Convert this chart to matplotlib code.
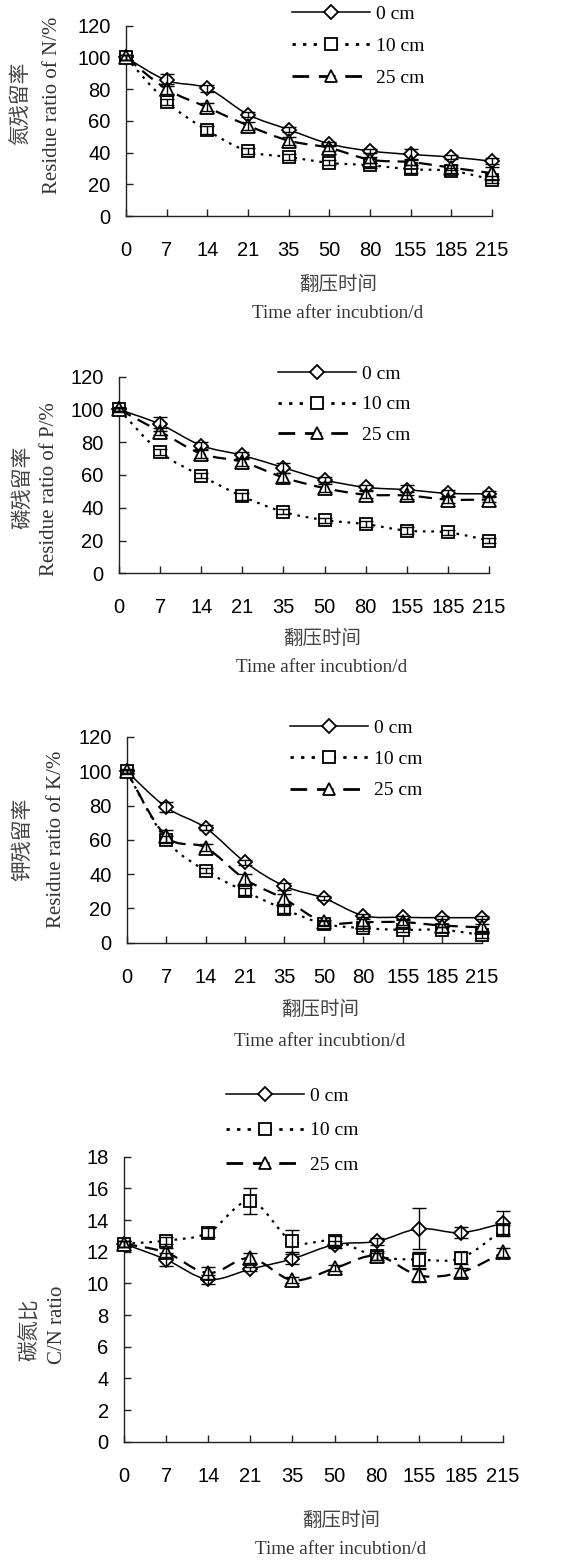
import matplotlib
matplotlib.use('Agg')
import matplotlib.pyplot as plt
from matplotlib.path import Path
from matplotlib.patches import PathPatch
from matplotlib.lines import Line2D

# categories (days after incubation)
days = ['0', '7', '14', '21', '35', '50', '80', '155', '185', '215']
depths = ['0 cm', '10 cm', '25 cm']

# N residue ratio (%)
n_0 = [100, 85.5, 80.5, 64, 54.5, 45.5, 41, 38.8, 37.2, 34.5]
n_10 = [100, 72, 54, 40.8, 37.2, 33.5, 32, 29.5, 28.5, 23]
n_25 = [100, 80, 68.5, 57, 47.5, 43, 35.5, 34, 30.5, 27]
n_0_err = [1.5, 3.8, 2.2, 1.8, 1.5, 1.2, 1.2, 3.5, 1.2, 1.8]
n_10_err = [1.5, 2.0, 2.5, 2.0, 2.0, 1.5, 1.5, 2.5, 1.5, 2.0]
n_25_err = [1.5, 3.0, 2.5, 2.5, 2.5, 2.0, 2.0, 2.0, 1.5, 4.0]

# P residue ratio (%)
p_0 = [100, 91, 78, 72, 64.5, 57, 52.5, 51, 48.8, 48.5]
p_10 = [100, 74, 59.5, 47, 37.5, 32.5, 30, 26, 25, 20]
p_25 = [100, 86.5, 73, 68, 58.5, 52, 48, 47.5, 45, 45]
p_0_err = [1.5, 4.4, 2.0, 2.0, 3.0, 1.5, 1.5, 3.0, 2.0, 1.5]
p_10_err = [1.0, 2.0, 1.5, 2.0, 1.5, 1.5, 2.0, 2.0, 1.5, 1.5]
p_25_err = [1.0, 2.0, 2.5, 2.5, 2.5, 2.5, 2.0, 2.0, 2.0, 1.5]

# K residue ratio (%)
k_0 = [100, 79, 67, 47, 33, 26, 15.8, 14.8, 14.6, 14.6]
k_10 = [100, 60, 42, 30, 19.5, 11, 8.5, 7.5, 7.5, 4.5]
k_25 = [100, 62, 55.5, 37, 25.5, 12, 12, 12, 10, 9]
k_0_err = [1.5, 3.0, 1.5, 1.5, 2.0, 1.0, 1.0, 1.0, 1.0, 1.0]
k_10_err = [1.0, 2.0, 1.5, 2.0, 2.0, 1.5, 1.5, 1.5, 1.5, 1.5]
k_25_err = [1.0, 3.5, 2.0, 3.0, 3.0, 1.5, 2.0, 1.5, 1.0, 2.0]

# C/N ratio
cn_0 = [12.5, 11.5, 10.25, 10.9, 11.55, 12.45, 12.65, 13.45, 13.2, 13.8]
cn_10 = [12.5, 12.7, 13.2, 15.2, 12.65, 12.7, 11.7, 11.5, 11.6, 13.4]
cn_25 = [12.5, 11.95, 10.65, 11.6, 10.2, 10.95, 11.75, 10.5, 10.7, 11.95]
cn_0_err = [0.2, 0.4, 0.3, 0.15, 0.3, 0.2, 0.2, 1.3, 0.35, 0.8]
cn_10_err = [0.2, 0.2, 0.3, 0.8, 0.7, 0.3, 0.2, 0.5, 0.4, 0.3]
cn_25_err = [0.2, 0.3, 0.4, 0.3, 0.2, 0.2, 0.3, 0.4, 0.3, 0.3]

W, H = 570, 1563
fig = plt.figure(figsize=(W / 100, H / 100), dpi=100)

CJK = ['Noto Sans CJK SC', 'DejaVu Sans']
SERIF = 'Liberation Serif'
SANS = 'Liberation Sans'

styles = [
    dict(ls='-', lw=1.1, marker='D', ms=7.5),
    dict(ls=(0, (1.2, 2.6)), lw=1.6, marker='s', ms=8.5),
    dict(ls=(0, (6, 3.5)), lw=1.6, marker='^', ms=9.5),
]


def smooth_path(xs, ys):
    # Catmull-Rom segments as cubic Bezier curves (like Excel smoothed lines)
    pts = list(zip(xs, ys))
    verts = [pts[0]]
    codes = [Path.MOVETO]
    n = len(pts)
    for i in range(n - 1):
        p0 = pts[i - 1] if i > 0 else pts[i]
        p1 = pts[i]
        p2 = pts[i + 1]
        p3 = pts[i + 2] if i + 2 < n else pts[i + 1]
        c1 = (p1[0] + (p2[0] - p0[0]) / 6, p1[1] + (p2[1] - p0[1]) / 6)
        c2 = (p2[0] - (p3[0] - p1[0]) / 6, p2[1] - (p3[1] - p1[1]) / 6)
        verts += [c1, c2, p2]
        codes += [Path.CURVE4] * 3
    return Path(verts, codes)


def px_axes(left, right, top, bottom):
    return fig.add_axes([left / W, 1 - bottom / H, (right - left) / W, (bottom - top) / H])


def panel(rect, series, errs, ymax, ystep, legend_xy, lspace, cn_label, en_label,
          ylab_pos, xlab_pos):
    ax = px_axes(*rect)
    x = list(range(len(days)))
    for i, (vals, err) in enumerate(zip(series, errs)):
        st = styles[i]
        ax.add_patch(PathPatch(smooth_path(x, vals), fill=False, edgecolor='black',
                               lw=st['lw'], linestyle=st['ls'], zorder=2,
                               capstyle='butt'))
        ax.plot(x, vals, linestyle='none', marker=st['marker'], ms=st['ms'],
                mfc='white', mec='black', mew=1.3, zorder=3, clip_on=False)
        ax.errorbar(x, vals, yerr=err, fmt='none', ecolor='black', elinewidth=1.0,
                    capsize=5, capthick=1.0, zorder=4, clip_on=False)
    ax.set_xlim(0, len(days) - 1)
    ax.set_ylim(0, ymax)
    ax.set_yticks(range(0, ymax + 1, ystep))
    ax.set_xticks(x)
    ax.set_xticklabels(days)
    for s in ['top', 'right']:
        ax.spines[s].set_visible(False)
    for s in ['left', 'bottom']:
        ax.spines[s].set_linewidth(1.0)
        ax.spines[s].set_color('#222222')
    ax.tick_params(axis='both', direction='in', length=5, width=1.0, color='#222222',
                   labelsize=14.5)
    ax.tick_params(axis='y', pad=11)
    ax.tick_params(axis='x', pad=18)
    for t in ax.get_xticklabels() + ax.get_yticklabels():
        t.set_fontfamily(SANS)

    handles = []
    for i in range(3):
        st = styles[i]
        handles.append(Line2D([], [], color='black', lw=st['lw'] + (0.4 if i else 0),
                              linestyle=st['ls'], marker=st['marker'], ms=st['ms'] - 0.5,
                              mfc='white', mec='black', mew=1.3))
    lx, ly = legend_xy
    fig.legend(handles, depths, loc='upper left', bbox_to_anchor=(lx / W, 1 - ly / H),
               frameon=False, handlelength=4.0, handletextpad=0.3, labelspacing=lspace,
               borderpad=0, borderaxespad=0, prop={'family': SERIF, 'size': 14})

    (cx, cy), (ex, ey) = ylab_pos
    fig.text(cx / W, 1 - cy / H, cn_label, rotation=90, ha='center', va='center',
             family=CJK, fontsize=15, color='#444444')
    fig.text(ex / W, 1 - ey / H, en_label, rotation=90, ha='center', va='center',
             family=SERIF, fontsize=15, color='#333333')
    (xx, xy1), xy2 = xlab_pos
    fig.text(xx / W, 1 - xy1 / H, '翻压时间', ha='center', va='center',
             family=CJK, fontsize=14, color='#444444')
    fig.text(xx / W, 1 - xy2 / H, 'Time after incubtion/d', ha='center', va='center',
             family=SERIF, fontsize=13.8, color='#333333')
    return ax


panel((126, 492, 25.7, 216), [n_0, n_10, n_25], [n_0_err, n_10_err, n_25_err],
      120, 20, (292, 5), 0.75, '氮残留率', 'Residue ratio of N/%',
      ((20, 103), (53, 105)), ((338, 285), 313))
panel((119, 489, 376.7, 573.3), [p_0, p_10, p_25], [p_0_err, p_10_err, p_25_err],
      120, 20, (278, 365), 0.68, '磷残留率', 'Residue ratio of P/%',
      ((22, 487), (50, 489)), ((322, 638), 667))
panel((126.7, 481.7, 737, 942.7), [k_0, k_10, k_25], [k_0_err, k_10_err, k_25_err],
      120, 20, (290, 719), 0.71, '钾残留率', 'Residue ratio of K/%',
      ((22, 839), (57, 839)), ((320, 1010), 1041))
panel((124, 503, 1156.7, 1441.7), [cn_0, cn_10, cn_25], [cn_0_err, cn_10_err, cn_25_err],
      18, 2, (226, 1087), 0.88, '碳氮比', 'C/N ratio',
      ((30, 1330), (57, 1325)), ((341, 1520), 1550))

fig.savefig('out.png', dpi=100, facecolor='white')
